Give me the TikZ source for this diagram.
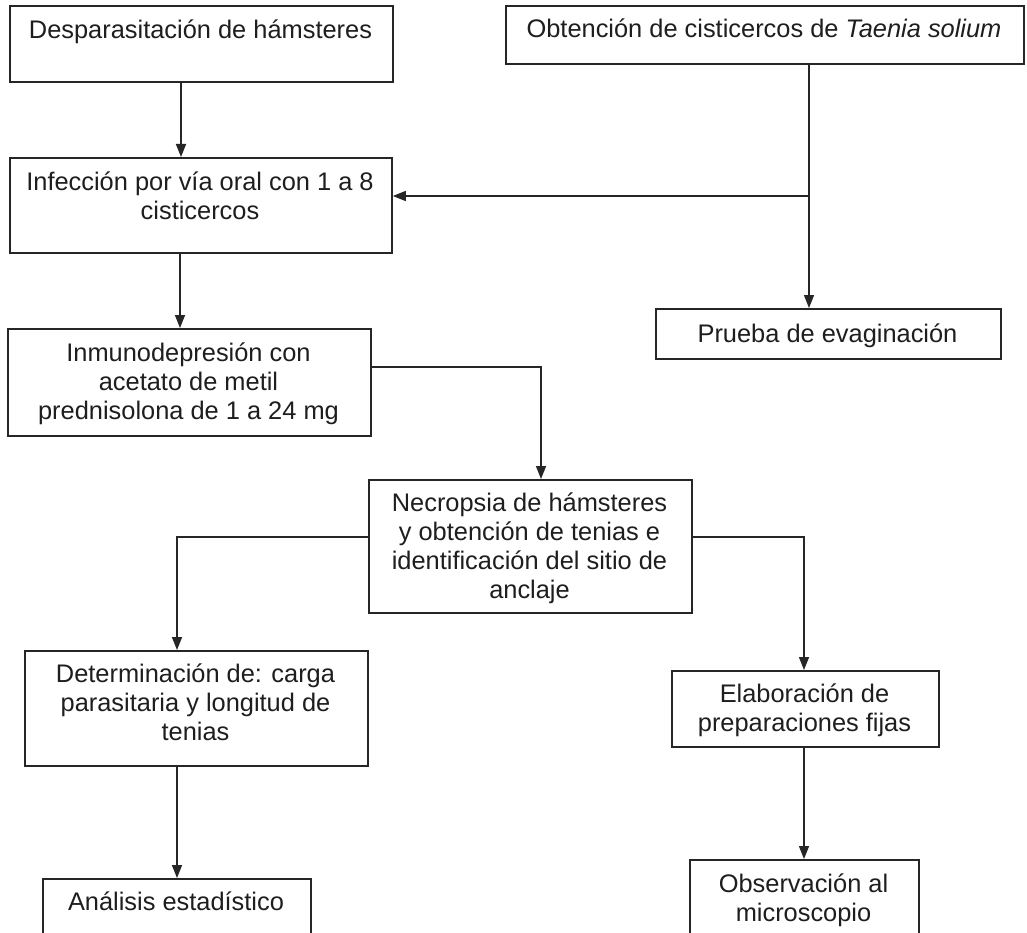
\documentclass[tikz,border=0pt]{standalone}
\usepackage{fontspec}
\setmainfont{Liberation Sans}
\usetikzlibrary{arrows.meta}
\definecolor{ink}{HTML}{262626}
\definecolor{txtc}{HTML}{1E1E1E}
\tikzset{
  box/.style={draw=ink, line width=1.8pt, inner sep=0pt, anchor=north west, fill=none},
  txt/.style={anchor=north, inner sep=0pt, align=center, text=txtc,
    font=\fontsize{25.4}{29}\selectfont},
  arr/.style={draw=ink, line width=1.5pt, -{Triangle[length=13pt,width=10pt]}}
}
\begin{document}
\begin{tikzpicture}[x=1pt,y=-1pt]
\useasboundingbox (0,0) rectangle (1027,933);
\fill[white] (0,0) rectangle (1027,933);
\clip (0,0) rectangle (1027,933);
% boxes
\node[box, minimum width=383pt, minimum height=76pt] (b1) at (9,5) {};
\node[box, minimum width=382pt, minimum height=95pt] (b2) at (9,157) {};
\node[box, minimum width=363pt, minimum height=107pt] (b3) at (7,328) {};
\node[box, minimum width=518pt, minimum height=58pt] (r1) at (505,5) {};
\node[box, minimum width=345pt, minimum height=50pt] (pr) at (655,308) {};
\node[box, minimum width=323pt, minimum height=133pt] (n) at (368,479) {};
\node[box, minimum width=343pt, minimum height=115pt] (d) at (24,650) {};
\node[box, minimum width=268pt, minimum height=80pt] (a) at (42,878) {};
\node[box, minimum width=267pt, minimum height=76pt] (e) at (671,670) {};
\node[box, minimum width=229pt, minimum height=100pt] (o) at (689,859) {};
% texts
\node[txt] (t1) at (200.5,17.7) {\strut Desparasitación de hámsteres};
\node[txt] (t2) at (200,169.7) {\strut Infección por vía oral con 1 a 8\\\strut cisticercos};
\node[txt] (t3) at (188.5,340.7) {\strut Inmunodepresión con\\\strut acetato de metil\\\strut prednisolona de 1 a 24 mg};
\node[txt] (tr1) at (764,16.7) {\strut Obtención de cisticercos de \textit{Taenia solium}};
\node[txt] (tp) at (827.5,321.7) {\strut Prueba de evaginación};
\node[txt] (tn) at (529.5,490.7) {\strut Necropsia de hámsteres\\\strut y obtención de tenias e\\\strut identificación del sitio de\\\strut anclaje};
\node[txt] (td) at (195.5,661.7) {\strut Determinación de: carga\\\strut parasitaria y longitud de\\\strut tenias};
\node[txt] (ta) at (176,889.7) {\strut Análisis estadístico};
\node[txt] (te) at (804.5,681.7) {\strut Elaboración de\\\strut preparaciones fijas};
\node[txt] (to) at (803.5,871.7) {\strut Observación al\\\strut microscopio};
% connector coordinates
\coordinate (ca) at (181,0);
\coordinate (cb) at (180,0);
\coordinate (j1) at (809,196);
\coordinate (k1) at (541,367);
\coordinate (k2) at (177,537);
\coordinate (k3) at (804,537);
% connectors
\draw[arr] (ca |- b1.south) -- (ca |- b2.north);
\draw[arr] (cb |- b2.south) -- (cb |- b3.north);
\draw[arr] (j1 |- r1.south) -- (j1 |- pr.north);
\draw[arr] (j1) -- (j1 -| b2.east);
\draw[arr] (b3.east |- k1) -- (k1) -- (k1 |- n.north);
\draw[arr] (n.west |- k2) -- (k2) -- (k2 |- d.north);
\draw[arr] (n.east |- k3) -- (k3) -- (k3 |- e.north);
\draw[arr] (k2 |- d.south) -- (k2 |- a.north);
\draw[arr] (k3 |- e.south) -- (k3 |- o.north);
\end{tikzpicture}
\end{document}
